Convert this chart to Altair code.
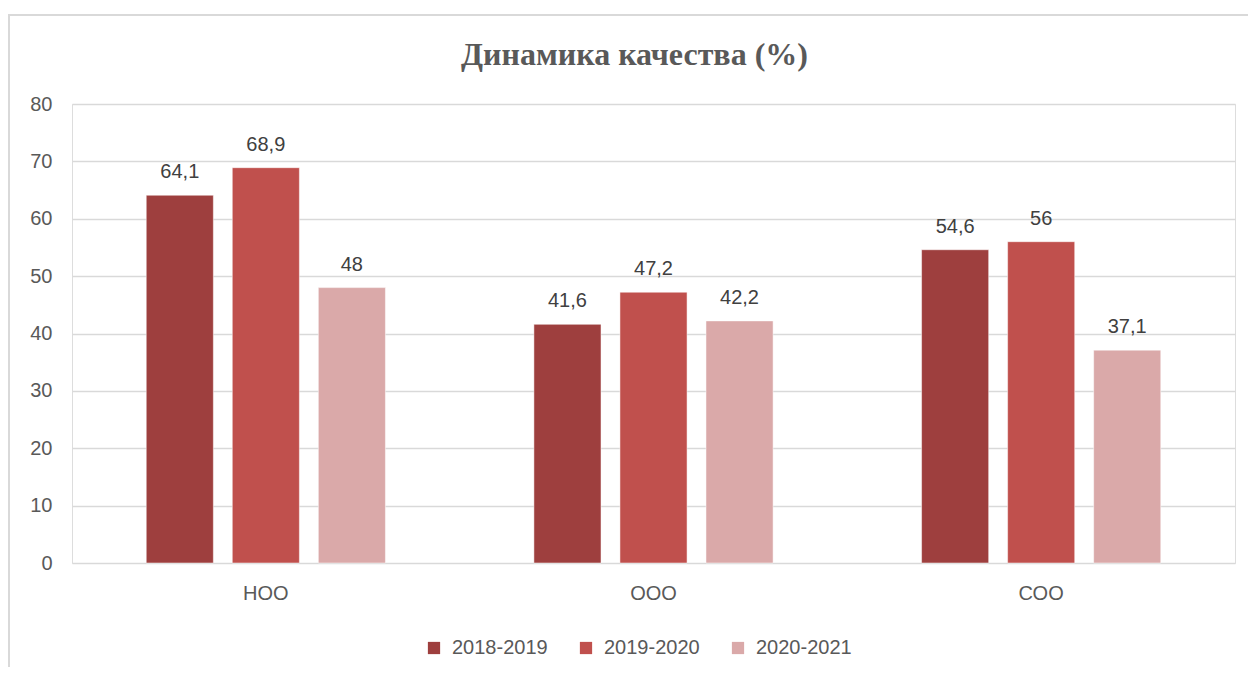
import altair as alt
import pandas as pd

categories = ["НОО", "ООО", "СОО"]
series = ["2018-2019", "2019-2020", "2020-2021"]
values_2018 = [64.1, 41.6, 54.6]
values_2019 = [68.9, 47.2, 56]
values_2020 = [48, 42.2, 37.1]
colors = ["#9E3F3E", "#C0504D", "#DAA9A9"]
title_text = "Динамика качества (%)"

rows = []
for s, vals in zip(series, [values_2018, values_2019, values_2020]):
    for c, v in zip(categories, vals):
        rows.append({"cat": c, "year": s, "v": v})
df = pd.DataFrame(rows)

W, H = 1163, 459
FONT = "Liberation Sans"

base = alt.Chart(df)

x_enc = alt.X("cat:N", sort=categories, title=None,
              scale=alt.Scale(paddingInner=0.383, paddingOuter=0.1915),
              axis=alt.Axis(labelFontSize=20, labelColor="#595959", labelFont=FONT,
                            labelAngle=0, ticks=False, domain=False, labelPadding=20,
                            grid=False))
xo_enc = alt.XOffset("year:N", sort=series,
                     scale=alt.Scale(paddingInner=0.22, paddingOuter=0))
y_enc = alt.Y("v:Q", title=None,
              scale=alt.Scale(domain=[0, 80], nice=False),
              axis=alt.Axis(values=list(range(0, 81, 10)), labelFontSize=20,
                            labelColor="#595959", labelFont=FONT, ticks=False,
                            domain=False, labelPadding=20, gridColor="#D9D9D9",
                            gridWidth=1.5))

bars = base.mark_bar(stroke="white", strokeWidth=0.5).encode(
    x=x_enc, xOffset=xo_enc, y=y_enc,
    color=alt.Color("year:N", sort=series,
                    scale=alt.Scale(domain=series, range=colors),
                    legend=alt.Legend(title=None, orient="none", direction="horizontal",
                                      legendX=352, legendY=H + 75, symbolType="square",
                                      symbolSize=150, symbolStrokeWidth=0,
                                      labelFontSize=20, labelFont=FONT,
                                      labelColor="#595959", columnPadding=28,
                                      labelOffset=8)),
)

labels = base.transform_calculate(
    lbl="replace(format(datum.v, ''), '.', ',')"
).mark_text(fontSize=20, font=FONT, color="#404040", baseline="alphabetic", dy=-17).encode(
    x=alt.X("cat:N", sort=categories), xOffset=alt.XOffset("year:N", sort=series),
    y="v:Q", text="lbl:N",
)

border = alt.Chart(alt.Data(values=[{"a": 1}])).mark_rect(
    fillOpacity=0, stroke="#D9D9D9", strokeWidth=2
).encode(x=alt.value(-63), x2=alt.value(W + 100), y=alt.value(-89), y2=alt.value(H + 200))

title = alt.Chart(alt.Data(values=[{"t": title_text}])).mark_text(
    font="Liberation Serif", fontSize=32, fontWeight="bold", color="#595959",
    align="center", baseline="alphabetic"
).encode(x=alt.value(W / 2 - 19), y=alt.value(-39), text="t:N")

chart = alt.layer(border, bars, labels, title).properties(
    width=W, height=H,
    autosize=alt.AutoSizeParams(type="none"),
    padding={"left": 64, "top": 96, "right": 13, "bottom": 104},
).configure_view(stroke=None).configure(background="white")

chart.save("out.html", embed_options={"renderer": "svg", "actions": False})
